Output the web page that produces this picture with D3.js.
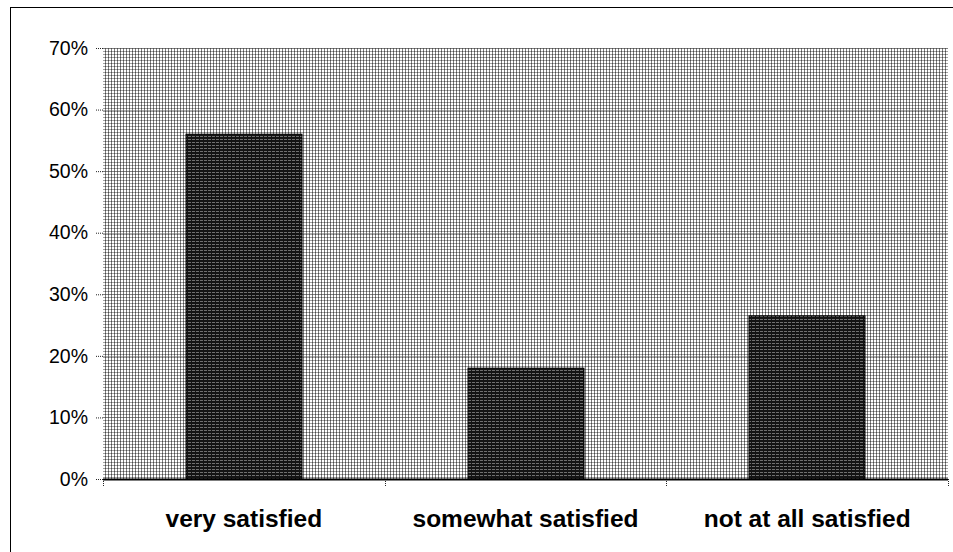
<!DOCTYPE html>
<html><head><meta charset="utf-8">
<script src="https://cdn.jsdelivr.net/npm/d3@7"></script>
<style>body{margin:0;background:#fff}svg{display:block}</style>
</head><body>
<svg id="c" width="953" height="552"></svg>
<script>
const categories = ["very satisfied", "somewhat satisfied", "not at all satisfied"];
const values = [0.56, 0.18, 0.265];
const yTicks = [0, 0.1, 0.2, 0.3, 0.4, 0.5, 0.6, 0.7];

const svg = d3.select("#c");
const m = {left: 103, top: 48, right: 948, bottom: 479};
const x = d3.scaleBand().domain(categories).range([m.left, m.right]);
const y = d3.scaleLinear().domain([0, 0.7]).range([m.bottom, m.top]);

const defs = svg.append("defs");
const bg = defs.append("pattern").attr("id","bgp").attr("patternUnits","userSpaceOnUse")
  .attr("width",3).attr("height",3);
bg.append("rect").attr("width",3).attr("height",3).attr("fill","#ffffff");
bg.append("rect").attr("width",1).attr("height",3).attr("fill","#7e7e7e");
bg.append("rect").attr("width",3).attr("height",1).attr("fill","#a2a2a2");
bg.append("rect").attr("width",1).attr("height",1).attr("fill","#4a4a4a");

const bp = defs.append("pattern").attr("id","barp").attr("patternUnits","userSpaceOnUse")
  .attr("width",4).attr("height",3);
bp.append("rect").attr("width",4).attr("height",3).attr("fill","#141414");
bp.append("rect").attr("y",1).attr("width",3).attr("height",1).attr("fill","#707070");

// outer frame
svg.append("rect").attr("x",10.5).attr("y",7.5).attr("width",960).attr("height",560)
  .attr("fill","none").attr("stroke","#000").attr("stroke-width",1);

// plot background
svg.append("rect").attr("x",m.left).attr("y",m.top).attr("width",m.right-m.left)
  .attr("height",m.bottom-m.top).attr("fill","url(#bgp)");

// gridlines
svg.append("g").selectAll("line").data(yTicks.filter(d=>d>0)).join("line")
  .attr("x1",m.left).attr("x2",m.right)
  .attr("y1",d=>Math.round(y(d))+0.5).attr("y2",d=>Math.round(y(d))+0.5)
  .attr("stroke","#555").attr("stroke-width",1).attr("stroke-opacity",0.45);

// bars
const bw = 116;
svg.append("g").selectAll("rect").data(categories).join("rect")
  .attr("x",(d)=>Math.round(x(d)+x.bandwidth()/2-bw/2))
  .attr("y",(d,i)=>y(values[i]))
  .attr("width",bw)
  .attr("height",(d,i)=>m.bottom-y(values[i]))
  .attr("fill","url(#barp)")
  .attr("stroke","#000").attr("stroke-width",1);

// y axis
const ya = svg.append("g").attr("transform",`translate(${m.left},0)`)
  .call(d3.axisLeft(y).tickValues(yTicks).tickFormat(d3.format(".0%")).tickSize(8).tickPadding(7));
ya.select(".domain").remove();
ya.selectAll(".tick line").attr("stroke","#222").attr("stroke-dasharray","1,1");
ya.selectAll(".tick text").attr("font-family","Liberation Sans, Arial, sans-serif")
  .attr("font-size",19.5).attr("fill","#000");

// x axis
const xa = svg.append("g").attr("transform",`translate(0,${m.bottom})`)
  .call(d3.axisBottom(x).tickSize(0).tickPadding(31));
xa.select(".domain").remove();
xa.selectAll(".tick text").attr("font-family","Liberation Sans, Arial, sans-serif")
  .attr("font-size",24.5).attr("font-weight","bold").attr("fill","#000");
// category boundary ticks
const bounds = categories.map(c=>x(c)).concat([m.right]);
svg.append("g").selectAll("line").data(bounds).join("line")
  .attr("x1",d=>Math.round(d)+0.5).attr("x2",d=>Math.round(d)+0.5)
  .attr("y1",m.bottom).attr("y2",m.bottom+7)
  .attr("stroke","#222").attr("stroke-dasharray","1,1");
svg.append("line").attr("x1",m.left).attr("x2",m.right).attr("y1",m.bottom+0.5).attr("y2",m.bottom+0.5)
  .attr("stroke","#000").attr("stroke-width",2);
</script>
</body></html>
